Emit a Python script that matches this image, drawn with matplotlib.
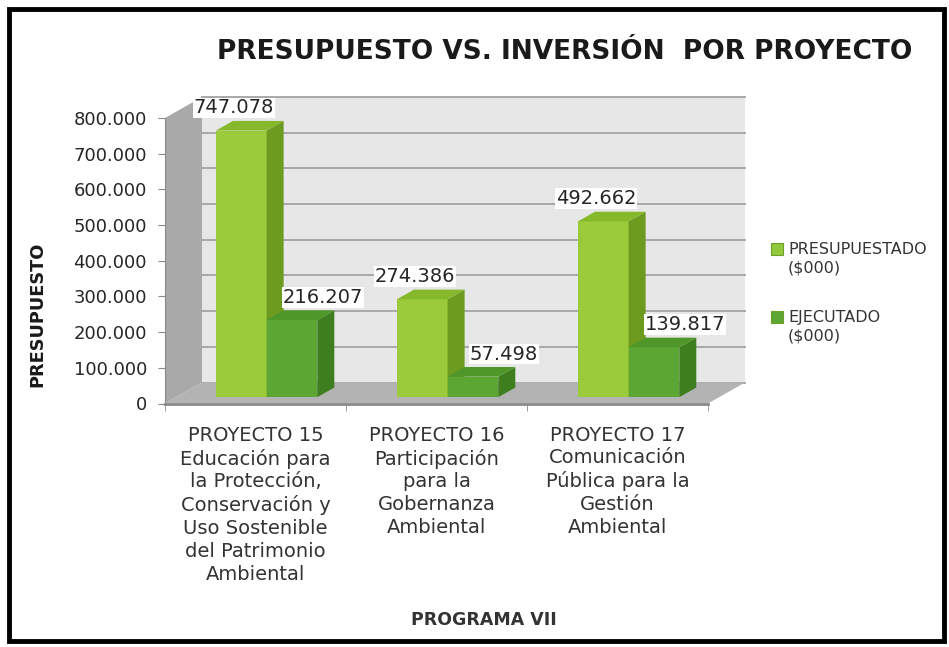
import matplotlib.pyplot as plt
from matplotlib.patches import Polygon, Rectangle

# data
proyectos = [
    "PROYECTO 15\nEducación para\nla Protección,\nConservación y\nUso Sostenible\ndel Patrimonio\nAmbiental",
    "PROYECTO 16\nParticipación\npara la\nGobernanza\nAmbiental",
    "PROYECTO 17\nComunicación\nPública para la\nGestión\nAmbiental",
]
presupuestado = [747078, 274386, 492662]
ejecutado = [216207, 57498, 139817]
series = ["PRESUPUESTADO\n($000)", "EJECUTADO\n($000)"]
yticks = [0, 100000, 200000, 300000, 400000, 500000, 600000, 700000, 800000]


def miles(v):
    return f"{v:,}".replace(",", ".")


W, H = 949, 647
fig = plt.figure(figsize=(W / 100, H / 100), dpi=100)
fig.patch.set_facecolor("white")

# plot area in pixels: front axis x=165, floor front y=403.5, 800.000 at y=118
x0_px, y0_px, ytop_px = 165, 403.5, 118
cat_px = 181
right_px, top_px = 752, 90
ax = fig.add_axes([x0_px / W, 1 - y0_px / H, (right_px - x0_px) / W, (y0_px - top_px) / H])
upx = 800000 / (y0_px - ytop_px)          # value units per pixel
ax.set_xlim(-0.5, -0.5 + (right_px - x0_px) / cat_px)
ax.set_ylim(0, (y0_px - top_px) * upx)
ax.set_facecolor("none")

DX = 37 / cat_px      # depth of the box
DY = 21 * upx
n = len(proyectos)
ymax = yticks[-1]

# walls and floor
ax.add_patch(Rectangle((-0.5 + DX, DY), n, ymax, facecolor="#E7E7E7", edgecolor="none", zorder=0))
for v in yticks:
    ax.plot([-0.5 + DX, n - 0.5 + DX], [v + DY, v + DY], color="#A3A3A3", lw=1.3, zorder=0.5)
ax.add_patch(Polygon([(-0.5, 0), (-0.5, ymax), (-0.5 + DX, ymax + DY), (-0.5 + DX, DY)],
                     closed=True, facecolor="#A9A9A9", edgecolor="none", zorder=1))
ax.add_patch(Polygon([(-0.5, 0), (n - 0.5, 0), (n - 0.5 + DX, DY), (-0.5 + DX, DY)],
                     closed=True, facecolor="#B3B3B3", edgecolor="none", zorder=1))

# pseudo 3d columns
w = 0.28
dx0, dy0 = 0.3 * DX, 0.3 * DY
bdx, bdy = 0.46 * DX, 0.46 * DY
colores = [("#9BCB3A", "#6C9B20", "#86B82C"), ("#5CA634", "#3F7E1F", "#4F9729")]
labels_dx = [-0.04, 0.17]
z = 2
for i in range(n):
    for s, vals in enumerate([presupuestado, ejecutado]):
        v = vals[i]
        left = i - w + s * w + dx0
        front, side, top = colores[s]
        ax.bar(left, v, width=w, bottom=dy0, align="edge", color=front,
               edgecolor="none", zorder=z)
        ax.add_patch(Polygon([(left + w, dy0), (left + w + bdx, dy0 + bdy),
                              (left + w + bdx, dy0 + bdy + v), (left + w, dy0 + v)],
                             closed=True, facecolor=side, edgecolor="none", zorder=z))
        ax.add_patch(Polygon([(left, dy0 + v), (left + w, dy0 + v),
                              (left + w + bdx, dy0 + bdy + v), (left + bdx, dy0 + bdy + v)],
                             closed=True, facecolor=top, edgecolor="none", zorder=z))
        z += 1
for i in range(n):
    for s, vals in enumerate([presupuestado, ejecutado]):
        v = vals[i]
        cx = i - w / 2 + s * w + dx0 + labels_dx[s]
        ax.text(cx, v + dy0 + bdy + 13 * upx, miles(v), ha="center", va="center",
                fontsize=14, color="#262626", zorder=20,
                bbox=dict(facecolor="white", edgecolor="none", pad=0.5))

# axes
for sp in ["top", "right"]:
    ax.spines[sp].set_visible(False)
ax.spines["left"].set_bounds(0, ymax)
ax.spines["left"].set_color("#8A8A8A")
ax.spines["left"].set_zorder(5)
ax.spines["bottom"].set_bounds(-0.5, n - 0.5)
ax.spines["bottom"].set_color("#8A8A8A")
ax.spines["bottom"].set_linewidth(2)
ax.spines["bottom"].set_zorder(5)
ax.set_yticks(yticks)
ax.set_yticklabels([miles(v) for v in yticks], fontsize=13, color="#262626")
ax.tick_params(axis="y", length=5, color="#8A8A8A", pad=8)
ax.set_xticks(range(n))
ax.set_xticklabels(proyectos, fontsize=14, color="#333333", linespacing=1.25)
ax.tick_params(axis="x", which="major", length=0, pad=16)
ax.set_xticks([i - 0.5 for i in range(n + 1)], minor=True)
ax.tick_params(axis="x", which="minor", length=5, color="#8A8A8A")

# titles
fig.text(565 / W, 1 - 52 / H, "PRESUPUESTO VS. INVERSIÓN  POR PROYECTO", ha="center",
         va="center", fontsize=19, fontweight="bold", color="#1A1A1A")
fig.text(37 / W, 1 - 314 / H, "PRESUPUESTO", rotation=90, ha="center", va="center",
         fontsize=12.8, fontweight="bold", color="#1A1A1A")
fig.text(484 / W, 1 - 620 / H, "PROGRAMA VII", ha="center", va="center",
         fontsize=12.5, fontweight="bold", color="#333333")

# legend
leg_y = [249, 317]
leg_col = ["#92C83E", "#5CA634"]
for k, lab in enumerate(series):
    fig.add_artist(Rectangle(((771) / W, 1 - (leg_y[k] + 6) / H), 12 / W, 12 / H,
                             transform=fig.transFigure, facecolor=leg_col[k],
                             edgecolor="#6FA02A", lw=0.8))
    fig.text(788 / W, 1 - (leg_y[k] - 7) / H, lab, ha="left", va="top", fontsize=11.5,
             color="#333333", linespacing=1.3)

# outer frame
fig.add_artist(Rectangle((9 / W, 1 - 641 / H), (944 - 9) / W, (641 - 9) / H,
                         transform=fig.transFigure, fill=False, edgecolor="black", lw=3.5))

fig.savefig("out.png", dpi=100)
